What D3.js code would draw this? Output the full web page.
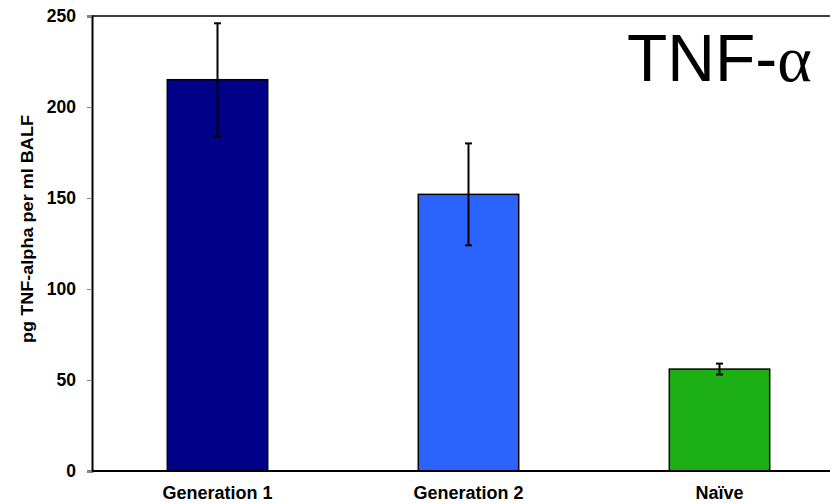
<!DOCTYPE html>
<html><head><meta charset="utf-8">
<script src="https://cdn.jsdelivr.net/npm/d3@7"></script>
<style>body{margin:0;background:#fff;} svg{display:block;}</style>
</head><body>
<svg id="c" width="830" height="504"></svg>
<script>
const categories = ["Generation 1", "Generation 2", "Naïve"];
const values = [215, 152, 56];
const errors = [31, 28, 3];
const colors = ["#000088", "#2B63FF", "#1DB014"];
const yTicks = [0, 50, 100, 150, 200, 250];

(function(){
const svg = d3.select("#c");
const mLeft = 92, mTop = 16, mBottom = 471, mRight = 845;
const x = d3.scaleBand().domain(categories).range([mLeft, mRight]).padding(0);
const y = d3.scaleLinear().domain([0, 250]).range([mBottom, mTop]);
const bw = x.bandwidth() * 0.4;

svg.append("line").attr("x1", mLeft).attr("x2", 830).attr("y1", mTop).attr("y2", mTop)
  .attr("stroke", "#000").attr("stroke-width", 1.5);

svg.selectAll("rect.bar").data(categories).enter().append("rect")
  .attr("x", d => x(d) + x.bandwidth()/2 - bw/2)
  .attr("y", (d,i) => y(values[i]))
  .attr("width", bw)
  .attr("height", (d,i) => y(0) - y(values[i]))
  .attr("fill", (d,i) => colors[i])
  .attr("stroke", "#000").attr("stroke-width", 1.5);

const eg = svg.append("g").attr("stroke", "#000").attr("stroke-width", 2);
categories.forEach((c,i) => {
  const cx = x(c) + x.bandwidth()/2;
  eg.append("line").attr("x1", cx).attr("x2", cx).attr("y1", y(values[i]+errors[i])).attr("y2", y(values[i]-errors[i]));
  eg.append("line").attr("x1", cx-3.5).attr("x2", cx+3.5).attr("y1", y(values[i]+errors[i])).attr("y2", y(values[i]+errors[i]));
  eg.append("line").attr("x1", cx-3.5).attr("x2", cx+3.5).attr("y1", y(values[i]-errors[i])).attr("y2", y(values[i]-errors[i]));
});

const ya = svg.append("g").attr("transform", `translate(${mLeft},0)`)
  .call(d3.axisLeft(y).tickValues(yTicks).tickSize(5).tickPadding(11).tickFormat(d3.format("d")));
ya.select(".domain").attr("stroke", "#000").attr("stroke-width", 2);
ya.selectAll(".tick line").attr("stroke", "#888");
ya.selectAll(".tick text").attr("font-family", "Liberation Sans, Arial, sans-serif")
  .attr("font-weight", "bold").attr("font-size", 17.5).attr("fill", "#000");

const xa = svg.append("g").attr("transform", `translate(0,${mBottom})`)
  .call(d3.axisBottom(x).tickSize(0).tickPadding(15));
xa.select(".domain").attr("stroke", "#000").attr("stroke-width", 2).attr("d", `M${mLeft},0H830`);
xa.selectAll(".tick text").attr("font-family", "Liberation Sans, Arial, sans-serif")
  .attr("font-weight", "bold").attr("font-size", 18).attr("fill", "#000");

svg.append("text").attr("transform", "translate(32.5,229) rotate(-90)")
  .attr("text-anchor", "middle").attr("font-family", "Liberation Sans, Arial, sans-serif")
  .attr("font-weight", "bold").attr("font-size", 16)
  .attr("textLength", 228).attr("lengthAdjust", "spacingAndGlyphs")
  .text("pg TNF-alpha per ml BALF");

const t = svg.append("text").attr("x", 627).attr("y", 81)
  .attr("font-family", "Liberation Sans, Arial, sans-serif").attr("font-size", 66).attr("fill", "#000");
t.append("tspan").text("TNF-");
t.append("tspan").attr("font-family", "Liberation Serif, Times New Roman, serif").text("α");
})();
</script>
</body></html>
